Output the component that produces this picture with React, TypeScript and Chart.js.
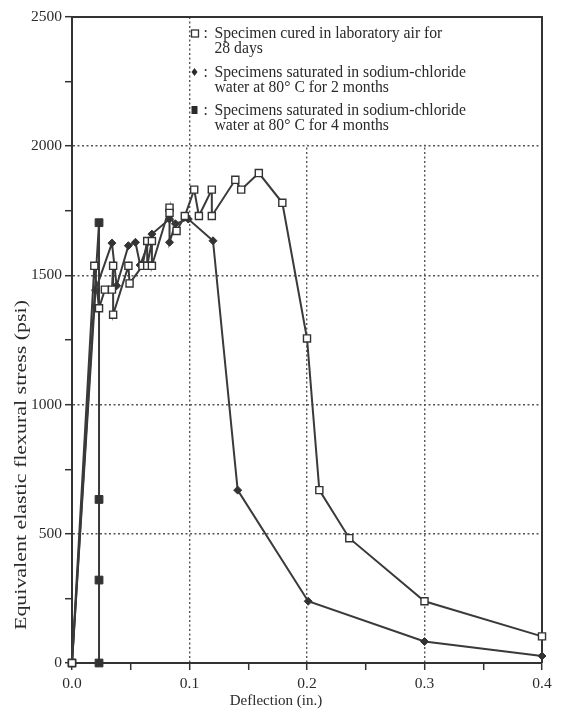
import React, { useEffect, useRef } from 'react';
import { Chart, registerables } from 'chart.js';

Chart.register(...registerables);

const FONT = '"Liberation Serif", "Times New Roman", Times, serif';
const INK = '#333333';

// Specimen cured in laboratory air for 28 days (open squares)
const labAirDeflection = [0, 0.019, 0.023, 0.028, 0.034, 0.035, 0.035, 0.048, 0.049, 0.06, 0.064, 0.064, 0.068, 0.068, 0.083, 0.083, 0.089, 0.096, 0.104, 0.108, 0.119, 0.119, 0.139, 0.144, 0.159, 0.179, 0.2, 0.2105, 0.236, 0.3, 0.4];
const labAirStress = [0, 1537, 1373, 1445, 1445, 1537, 1348, 1537, 1469, 1537, 1633, 1537, 1633, 1537, 1762, 1742, 1672, 1730, 1832, 1730, 1832, 1730, 1870, 1832, 1896, 1781, 1256, 669, 483, 239, 103];

// Saturated in NaCl water at 80 C for 2 months (filled diamonds)
const twoMonthDeflection = [0, 0.02, 0.034, 0.038, 0.048, 0.054, 0.058, 0.068, 0.083, 0.083, 0.088, 0.099, 0.12, 0.141, 0.201, 0.3, 0.4];
const twoMonthStress = [0, 1443, 1625, 1460, 1615, 1628, 1540, 1660, 1718, 1628, 1700, 1718, 1634, 669, 239, 83, 27];

// Saturated in NaCl water at 80 C for 4 months (filled squares)
const fourMonthDeflection = [0, 0.023, 0.023, 0.023, 0.023];
const fourMonthStress = [0, 1704, 633, 321, 0];

const xTickLabels = ['0.0', '0.1', '0.2', '0.3', '0.4'];
const yTickLabels = ['0', '500', '1000', '1500', '2000', '2500'];

const legendEntries = [
  ['Specimen cured in laboratory air for', '28 days'],
  ['Specimens saturated in sodium-chloride', 'water at 80° C for 2 months'],
  ['Specimens saturated in sodium-chloride', 'water at 80° C for 4 months'],
];

const xTitle = 'Deflection (in.)';
const yTitle = 'Equivalent elastic flexural stress (psi)';

const pairs = (xs: number[], ys: number[]) => xs.map((x, i) => ({ x, y: ys[i] }));

const decorPlugin = {
  id: 'decor',
  beforeDatasetsDraw(chart: any) {
    const { ctx, chartArea } = chart;
    const xs = chart.scales.x;
    const ys = chart.scales.y;
    const lx = xs.getPixelForValue(0.1);
    const lb = ys.getPixelForValue(2000);
    ctx.save();
    ctx.fillStyle = '#ffffff';
    ctx.fillRect(lx + 1.5, chartArea.top, chartArea.right - lx - 1.5, lb - chartArea.top - 1.5);
    ctx.strokeStyle = INK;
    ctx.lineWidth = 2;
    ctx.beginPath();
    ctx.moveTo(chartArea.left, chartArea.top);
    ctx.lineTo(chartArea.right, chartArea.top);
    ctx.lineTo(chartArea.right, chartArea.bottom);
    ctx.stroke();

    ctx.fillStyle = '#2a2a2a';
    ctx.font = `15.7px ${FONT}`;
    ctx.textBaseline = 'alphabetic';
    ctx.textAlign = 'left';
    const firstBase = [38, 77, 115];
    const lineGap = 15;
    const markerX = lx + 5;
    legendEntries.forEach((lines, i) => {
      const b = firstBase[i];
      ctx.fillText(':', markerX + 9, b);
      ctx.fillText(lines[0], markerX + 20, b);
      ctx.fillText(lines[1], markerX + 20, b + lineGap);
      const my = b - 5;
      ctx.lineWidth = 1.3;
      if (i === 0) {
        ctx.strokeStyle = '#333';
        ctx.strokeRect(markerX - 3, my - 3, 7, 7);
      } else if (i === 1) {
        ctx.beginPath();
        ctx.moveTo(markerX, my - 4);
        ctx.lineTo(markerX + 3, my);
        ctx.lineTo(markerX, my + 4);
        ctx.lineTo(markerX - 3, my);
        ctx.closePath();
        ctx.fill();
      } else {
        ctx.fillRect(markerX - 3, my - 4, 6, 8);
      }
    });
    ctx.restore();
  },
  afterDraw(chart: any) {
    const { ctx } = chart;
    ctx.save();
    ctx.fillStyle = '#2a2a2a';
    ctx.font = `15px ${FONT}`;
    ctx.textAlign = 'center';
    ctx.textBaseline = 'middle';
    ctx.fillText(xTitle, 276, 701);
    ctx.translate(22, 465);
    ctx.rotate(-Math.PI / 2);
    ctx.font = `16px ${FONT}`;
    const w = ctx.measureText(yTitle).width;
    const target = 330;
    ctx.scale(target / w, 1);
    ctx.fillText(yTitle, 0, 0);
    ctx.restore();
  },
};

export default function App() {
  const ref = useRef<HTMLCanvasElement | null>(null);

  useEffect(() => {
    if (!ref.current) return;
    const lineColor = '#3a3a3a';
    const chart = new Chart(ref.current, {
      type: 'line',
      data: {
        datasets: [
          {
            label: 'lab air 28 days',
            data: pairs(labAirDeflection, labAirStress),
            borderColor: lineColor,
            borderWidth: 2,
            pointStyle: 'rect',
            pointRadius: 5,
            pointBackgroundColor: '#ffffff',
            pointBorderColor: '#333',
            pointBorderWidth: 1.4,
            tension: 0,
            fill: false,
            clip: false as any,
          },
          {
            label: '2 months',
            data: pairs(twoMonthDeflection, twoMonthStress),
            borderColor: lineColor,
            borderWidth: 2,
            pointStyle: 'rectRot',
            pointRadius: 4,
            pointBackgroundColor: '#333',
            pointBorderColor: '#333',
            pointBorderWidth: 1,
            tension: 0,
            fill: false,
            clip: false as any,
          },
          {
            label: '4 months',
            data: pairs(fourMonthDeflection, fourMonthStress),
            borderColor: lineColor,
            borderWidth: 2,
            pointStyle: 'rect',
            pointRadius: 5.5,
            pointBackgroundColor: '#333',
            pointBorderColor: '#333',
            pointBorderWidth: 1,
            tension: 0,
            fill: false,
            clip: false as any,
          },
        ],
      },
      options: {
        responsive: true,
        maintainAspectRatio: false,
        animation: false,
        layout: { padding: { top: 17, right: 22, left: 0, bottom: 0 } },
        plugins: { legend: { display: false }, tooltip: { enabled: false }, title: { display: false } },
        scales: {
          x: {
            type: 'linear',
            min: 0,
            max: 0.4,
            afterFit: (s: any) => { s.height = 49; },
            ticks: {
              stepSize: 0.05,
              autoSkip: false,
              maxRotation: 0,
              padding: 5,
              color: '#2a2a2a',
              font: { family: FONT, size: 15.5 },
              callback: (v: any) => {
                const k = Math.round(Number(v) * 100);
                return k % 10 === 0 ? xTickLabels[k / 10] : '';
              },
            },
            grid: {
              color: (c: any) => {
                const k = Math.round(Number(c.tick?.value) * 100);
                return k % 10 === 0 && k > 0 && k < 40 ? '#555' : 'rgba(0,0,0,0)';
              },
              lineWidth: 1.4,
              tickLength: 7,
              tickColor: INK,
              tickWidth: 1.5,
              tickBorderDash: [],
            } as any,
            border: { display: true, color: INK, width: 2, dash: [2, 2.5] },
          },
          y: {
            type: 'linear',
            min: 0,
            max: 2500,
            afterFit: (s: any) => { s.width = 72; },
            ticks: {
              stepSize: 250,
              autoSkip: false,
              padding: 3,
              color: '#2a2a2a',
              font: { family: FONT, size: 15.5 },
              callback: (v: any) => {
                const k = Math.round(Number(v));
                return k % 500 === 0 ? yTickLabels[k / 500] : '';
              },
            },
            grid: {
              color: (c: any) => {
                const k = Math.round(Number(c.tick?.value));
                return k % 500 === 0 && k > 0 && k < 2500 ? '#555' : 'rgba(0,0,0,0)';
              },
              lineWidth: 1.4,
              tickLength: 7,
              tickColor: INK,
              tickWidth: 1.5,
              tickBorderDash: [],
            } as any,
            border: { display: true, color: INK, width: 2, dash: [2, 2.5] },
          },
        },
      },
      plugins: [decorPlugin],
    } as any);
    return () => chart.destroy();
  }, []);

  return (
    <div style={{ position: 'absolute', left: 0, top: 0, width: 564, height: 712, background: '#ffffff' }}>
      <canvas ref={ref} />
    </div>
  );
}
